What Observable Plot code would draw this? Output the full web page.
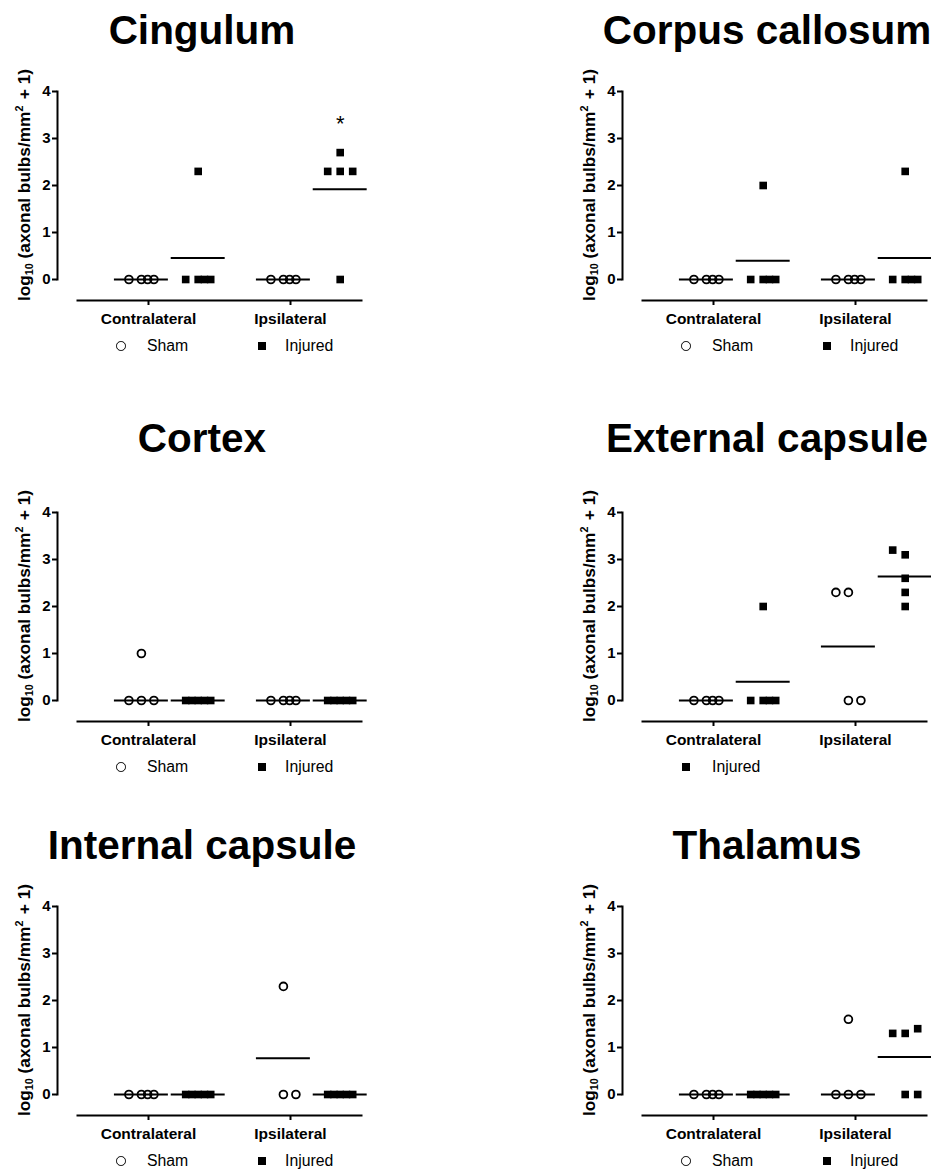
<!DOCTYPE html>
<html><head><meta charset="utf-8">
<script src="https://cdn.jsdelivr.net/npm/d3@7"></script>
<script src="https://cdn.jsdelivr.net/npm/@observablehq/plot@0.6"></script>
<style>
html,body{margin:0;padding:0;background:#fff;}
#page{position:relative;width:931px;height:1171px;overflow:hidden;font-family:"Liberation Sans",Arial,sans-serif;color:#000;}
.panel{position:absolute;width:400px;height:380px;}
.title{position:absolute;left:-48px;width:500px;text-align:center;font-weight:bold;font-size:40.5px;line-height:1;white-space:nowrap;}
.ylab{position:absolute;left:25px;top:185px;transform:translate(-50%,-50%) rotate(-90deg);font-weight:bold;font-size:17.3px;white-space:nowrap;line-height:1;}
.ylab sub{font-size:0.62em;vertical-align:-0.25em;line-height:0;}
.ylab sup{font-size:0.62em;vertical-align:0.7em;line-height:0;margin-right:0.15em;}
.plot{position:absolute;left:0;top:0;}
.leg{position:absolute;font-size:15.8px;line-height:1;white-space:nowrap;}
.sym{position:absolute;box-sizing:border-box;}
.sym.circle{width:9.6px;height:9.6px;border:1.8px solid #000;border-radius:50%;}
.sym.square{width:7.6px;height:7.6px;background:#000;}
</style>
</head>
<body>
<div id="page"></div>
<script>
// ---- data ----
const regions = ["Cingulum", "Corpus callosum", "Cortex", "External capsule", "Internal capsule", "Thalamus"];
const sides = ["Contralateral", "Ipsilateral"];
const groups = ["Sham", "Injured"];

// values per panel: [Contra Sham, Contra Injured, Ipsi Sham, Ipsi Injured]
const cingulumValues        = [[0, 0, 0, 0], [2.3, 0, 0, 0, 0], [0, 0, 0, 0], [2.7, 2.3, 2.3, 2.3, 0]];
const corpusCallosumValues  = [[0, 0, 0, 0], [2.0, 0, 0, 0, 0], [0, 0, 0, 0], [2.3, 0, 0, 0, 0]];
const cortexValues          = [[1.0, 0, 0, 0], [0, 0, 0, 0, 0], [0, 0, 0, 0], [0, 0, 0, 0, 0]];
const externalCapsuleValues = [[0, 0, 0, 0], [2.0, 0, 0, 0, 0], [2.3, 2.3, 0, 0], [3.2, 3.1, 2.6, 2.3, 2.0]];
const internalCapsuleValues = [[0, 0, 0, 0], [0, 0, 0, 0, 0], [2.3, 0, 0], [0, 0, 0, 0, 0]];
const thalamusValues        = [[0, 0, 0, 0], [0, 0, 0, 0, 0], [1.6, 0, 0, 0], [1.4, 1.3, 1.3, 0, 0]];

// horizontal summary lines as drawn: [Contra Sham, Contra Injured, Ipsi Sham, Ipsi Injured]
const cingulumLines        = [0, 0.46, 0, 1.92];
const corpusCallosumLines  = [0, 0.40, 0, 0.46];
const cortexLines          = [0, 0, 0, 0];
const externalCapsuleLines = [0, 0.40, 1.15, 2.64];
const internalCapsuleLines = [0, 0, 0.77, 0];
const thalamusLines        = [0, 0, 0, 0.80];

// significance marks
const cingulumStars = [{side: 1, group: 1, y: 3.3, label: "*"}];

// legend entries shown under each panel
const cingulumLegend = ["Sham", "Injured"];
const corpusCallosumLegend = ["Sham", "Injured"];
const cortexLegend = ["Sham", "Injured"];
const externalCapsuleLegend = ["Injured"];
const internalCapsuleLegend = ["Sham", "Injured"];
const thalamusLegend = ["Sham", "Injured"];

const yTicks = [0, 1, 2, 3, 4];

// ---- layout ----
const FONT = '"Liberation Sans", Arial, sans-serif';
const groupOffset = [-0.05, 0.35];   // in category units
const halfLine = 0.19;
const step = 12.5 / 142;             // scatter spread step in category units
const lefts = [0, 565];
const tops = [0, 421, 815];
const titleBaselines = [44, 31, 44.5];

function spread(vals) {
  const sorted = vals.slice().sort((a, b) => a - b);
  const rows = [];
  for (const v of sorted) {
    const r = rows[rows.length - 1];
    if (r && v - r[0] < 0.15) r.push(v); else rows.push([v]);
  }
  const out = [];
  for (let r of rows) {
    const n = r.length;
    if (n === 2 && r[0] > 0) r = r.slice().reverse();
    const pat = n === 1 ? [0]
      : n === 2 ? (r[0] > 0 ? [-1, 0] : [0, 1])
      : n === 3 ? [-1, 0, 1]
      : n === 4 ? [-1, 0, 0.5, 1]
      : r.map((_, i) => -1 + 2 * i / (n - 1));
    r.forEach((v, i) => out.push({v, k: pat[i]}));
  }
  return out;
}

function makePanel(idx, values, lines, stars, legend) {
  const col = idx % 2, row = Math.floor(idx / 2);
  const pts = [];
  values.forEach((arr, gi) => {
    const side = gi >> 1, grp = gi % 2;
    for (const {v, k} of spread(arr)) {
      pts.push({x: side + groupOffset[grp] + k * step, y: v, group: groups[grp]});
    }
  });
  const lineData = lines.map((v, gi) => {
    const c = (gi >> 1) + groupOffset[gi % 2];
    return {x1: c - halfLine, x2: c + halfLine, y: v};
  });
  const starData = stars.map(s => ({x: s.side + groupOffset[s.group], y: s.y, label: s.label}));

  const chart = Plot.plot({
    width: 400,
    height: 329,
    marginTop: 91,
    marginBottom: 50,
    marginLeft: 77,
    marginRight: 39,
    x: {domain: [-0.5, 1.5]},
    y: {domain: [0, 4]},
    style: {fontFamily: FONT, color: "#000", background: "transparent", overflow: "visible"},
    marks: [
      Plot.frame({anchor: "left", dx: -20, strokeWidth: 2}),
      Plot.frame({anchor: "bottom", dy: 21, strokeWidth: 2}),
      Plot.axisY({ticks: yTicks, tickFormat: d => String(d), dx: -20, tickSize: 5, tickPadding: 2,
        fontSize: 15, fontWeight: "bold", label: null, strokeWidth: 2}),
      Plot.axisX({ticks: [0, 1], tickFormat: i => sides[i], dy: 21, tickSize: 5, tickPadding: 7,
        fontSize: 15.5, fontWeight: "bold", label: null, strokeWidth: 2}),
      Plot.ruleY(lineData, {y: "y", x1: "x1", x2: "x2", strokeWidth: 2, stroke: "#000"}),
      Plot.dot(pts.filter(d => d.group === "Sham"), {x: "x", y: "y", symbol: "circle", r: 3.9,
        stroke: "#000", fill: "none", strokeWidth: 1.8}),
      Plot.dot(pts.filter(d => d.group === "Injured"), {x: "x", y: "y", symbol: "square", r: 4.3,
        fill: "#000", stroke: "none"}),
      Plot.text(starData, {x: "x", y: "y", text: "label", fontSize: 22, fill: "#000"})
    ]
  });

  const panel = document.createElement("div");
  panel.className = "panel";
  panel.style.left = lefts[col] + "px";
  panel.style.top = tops[row] + "px";

  chart.classList.add("plot");
  panel.appendChild(chart);

  const title = document.createElement("div");
  title.className = "title";
  title.textContent = regions[idx];
  title.style.top = (titleBaselines[row] - 0.8465 * 40.5) + "px";
  panel.appendChild(title);

  const ylab = document.createElement("div");
  ylab.className = "ylab";
  ylab.innerHTML = "log<sub>10</sub> (axonal bulbs/mm<sup>2</sup> + 1)";
  panel.appendChild(ylab);

  const symX = [121, 262], textX = [147, 285], legY = 346;
  legend.forEach((name, i) => {
    const s = document.createElement("div");
    const isSham = name === "Sham";
    s.className = "sym " + (isSham ? "circle" : "square");
    const sz = isSham ? 9.6 : 7.6;
    s.style.left = (symX[i] - sz / 2) + "px";
    s.style.top = (legY - sz / 2) + "px";
    panel.appendChild(s);
    const t = document.createElement("div");
    t.className = "leg";
    t.textContent = name;
    t.style.left = textX[i] + "px";
    t.style.top = (legY - 0.488 * 15.8) + "px";
    panel.appendChild(t);
  });

  document.getElementById("page").appendChild(panel);
}

makePanel(0, cingulumValues, cingulumLines, cingulumStars, cingulumLegend);
makePanel(1, corpusCallosumValues, corpusCallosumLines, [], corpusCallosumLegend);
makePanel(2, cortexValues, cortexLines, [], cortexLegend);
makePanel(3, externalCapsuleValues, externalCapsuleLines, [], externalCapsuleLegend);
makePanel(4, internalCapsuleValues, internalCapsuleLines, [], internalCapsuleLegend);
makePanel(5, thalamusValues, thalamusLines, [], thalamusLegend);
</script>
</body></html>
